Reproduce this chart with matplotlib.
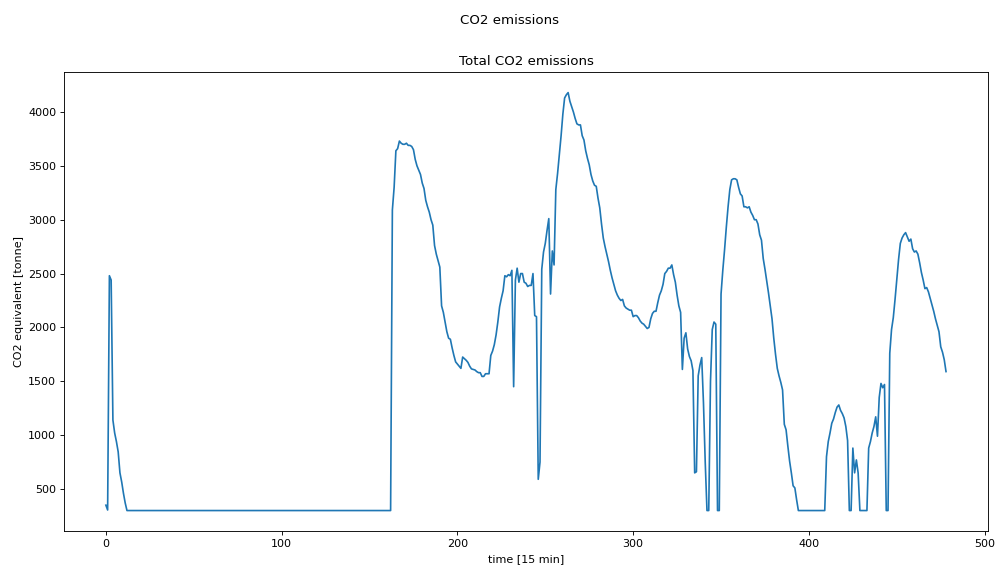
import matplotlib

matplotlib.use("Agg")

import matplotlib.pyplot as plt
import numpy as np

# CO2 equivalent per 15 min step [tonne], in segments
FLOOR = 300

start = [350, 305, 2480, 2440, 1140, 1020, 940, 845, 650, 565, 460, 370]
idle = [FLOOR] * 151  # steps 12..162 sit on the floor value
peak_1 = [3090, 3300, 3640, 3660, 3730, 3710, 3700, 3700, 3710, 3690,
          3690, 3680, 3650, 3560, 3500, 3460, 3420, 3340, 3290, 3180,
          3120, 3070, 3000, 2950, 2760, 2680, 2620, 2560, 2200, 2140]
trough_1 = [2050, 1960, 1900, 1890, 1810, 1740, 1680, 1660, 1640, 1620,
            1725, 1710, 1695, 1675, 1640, 1615, 1610, 1605, 1590, 1580,
            1580, 1545, 1545, 1570, 1570, 1570, 1740, 1780, 1840, 1930,
            2050, 2190]
plateau = [2270, 2340, 2480, 2470, 2490, 2480, 2530, 1450, 2440, 2550,
           2420, 2500, 2500, 2420, 2410, 2380, 2390, 2390, 2500, 2110,
           2100, 590, 750, 2540, 2700, 2780, 2900, 3010, 2310, 2710, 2580]
peak_2 = [3280, 3430, 3600, 3780, 3980, 4130, 4160, 4180, 4100, 4050,
          4000, 3940, 3890, 3880, 3880, 3780, 3740, 3640, 3570, 3510,
          3420, 3360, 3320, 3310, 3200, 3110, 2960, 2830, 2750, 2680, 2610]
decline = [2530, 2460, 2400, 2340, 2300, 2270, 2250, 2260, 2200, 2180,
           2170, 2160, 2160, 2100, 2110, 2110, 2090, 2060, 2040, 2030,
           2010, 1990, 2000, 2080, 2130, 2150, 2150, 2230, 2300, 2340, 2400]
dips = [2500, 2520, 2550, 2550, 2580, 2490, 2420, 2300, 2200, 2140,
        1610, 1900, 1950, 1800, 1730, 1690, 1600, 650, 660, 1550,
        1650, 1720, 1300, 750, 300, 300, 1500, 1980, 2050, 2030,
        300, 300, 2310]
peak_3 = [2530, 2720, 2930, 3120, 3280, 3370, 3380, 3380, 3370, 3300,
          3240, 3220, 3120, 3120, 3110, 3120, 3070, 3040, 3000, 3000,
          2960, 2860, 2810, 2640, 2540, 2430, 2320, 2200, 2080, 1900,
          1750, 1620, 1550, 1490, 1420, 1100, 1050, 900, 760, 650,
          530, 510, 400]
idle_2 = [FLOOR] * 16
bump = [800, 940, 1020, 1110, 1150, 1210, 1260, 1280, 1230, 1200,
        1160, 1080, 950, 300, 300, 880, 650, 770, 650]
idle_3 = [FLOOR] * 5
peak_4 = [880, 940, 1020, 1080, 1170, 990, 1350, 1480, 1440, 1470,
          300, 300, 1760, 1980, 2090, 2260, 2450, 2630, 2780, 2830,
          2860, 2880, 2840, 2800, 2820, 2730, 2700, 2710, 2680, 2600,
          2510, 2440, 2360, 2370, 2330, 2270, 2210, 2150, 2080, 2020,
          1960, 1820, 1770, 1700, 1590]

co2 = np.array(
    start + idle + peak_1 + trough_1 + plateau + peak_2 + decline
    + dips + peak_3 + idle_2 + bump + idle_3 + peak_4
)

DPI = 80


def plot_emissions(values, fname="out.png"):
    fig, ax = plt.subplots(figsize=(998 / DPI, 569 / DPI), dpi=DPI)
    fig.subplots_adjust(left=0.064, right=0.990, top=0.874, bottom=0.066)

    ax.plot(np.arange(len(values)), values)
    ax.set_title("Total CO2 emissions")
    ax.set_xlabel("time [15 min]")
    ax.set_ylabel("CO2 equivalent [tonne]")
    fig.suptitle("CO2 emissions", x=0.511, y=0.975)

    fig.savefig(fname, dpi=DPI)


if __name__ == "__main__":
    plot_emissions(co2)
